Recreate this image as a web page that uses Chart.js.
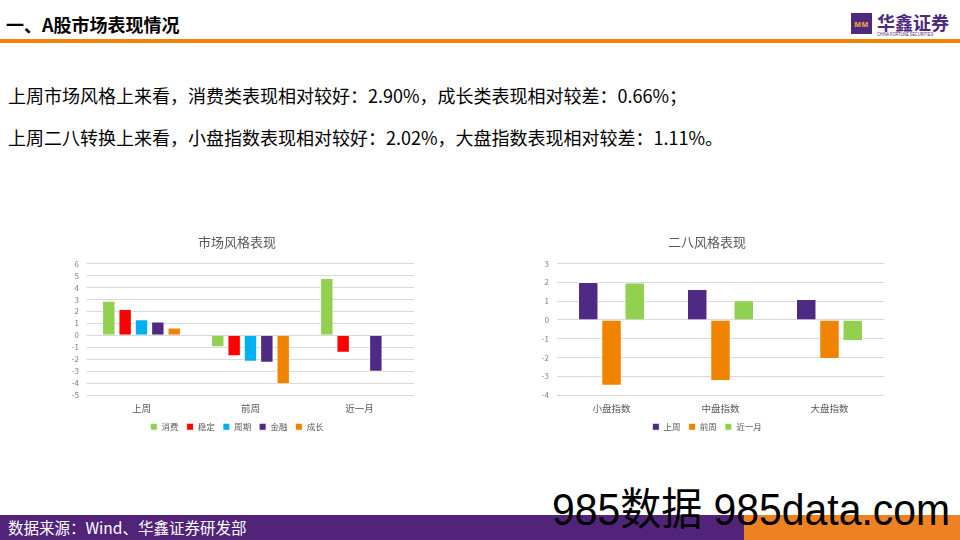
<!DOCTYPE html>
<html>
<head>
<meta charset="utf-8">
<script src="https://cdn.jsdelivr.net/npm/chart.js@4.4.1/dist/chart.umd.min.js"></script>
<style>
  body { margin: 0; width: 960px; height: 540px; position: relative; overflow: hidden; background: #fff;
         font-family: "Noto Sans CJK SC", "Noto Sans", sans-serif; }
  .head { position: absolute; left: 6px; top: 11px; font-size: 18px; font-weight: bold; color: #000; }
  .topline { position: absolute; left: 0; top: 39px; width: 960px; height: 4px; background: #F08300; }
  .logo-box { position: absolute; left: 851px; top: 13px; width: 21px; height: 21px; background: #4E2A7E; }
  .logo-box span { position: absolute; left: 3px; top: 4px; font-size: 9px; color: #F2A33A; font-weight: bold; }
  .logo-cn { position: absolute; left: 877px; top: 9px; font-size: 18px; font-weight: bold; color: #4E2A7E; }
  .logo-en { position: absolute; left: 877px; top: 31px; font-size: 5px; color: #4E2A7E; white-space: nowrap;
             font-family: "Liberation Sans", sans-serif; transform: scaleX(0.78); transform-origin: left top; }
  .txt { position: absolute; left: 8px; font-size: 18px; color: #000; }
  .box { position: absolute; }
  .foot { position: absolute; left: 0; top: 515px; width: 960px; height: 25px; background: #522479; }
  .foot-or { position: absolute; left: 744px; top: 515px; width: 216px; height: 25px; background: #EE8122; }
  .foot-txt { position: absolute; left: 8px; top: 516px; font-size: 15.5px; color: #fff; }
  .mark { position: absolute; left: 552px; top: 488px; font-size: 44px; line-height: 44px; color: #000; white-space: nowrap;
          font-family: "Liberation Sans", "Noto Sans CJK SC", sans-serif; transform: scaleX(0.93); transform-origin: left top; }
</style>
</head>
<body>
<div class="head">一、A股市场表现情况</div>
<div class="topline"></div>
<div class="logo-box"><span>ᴍᴍ</span></div>
<div class="logo-cn">华鑫证券</div>
<div class="logo-en">CHINA FORTUNE SECURITIES</div>

<div class="txt" style="top:82px;">上周市场风格上来看，消费类表现相对较好：2.90%，成长类表现相对较差：0.66%；</div>
<div class="txt" style="top:124px;">上周二八转换上来看，小盘指数表现相对较好：2.02%，大盘指数表现相对较差：1.11%。</div>

<div class="box" style="left:60px; top:228px; width:360px; height:213px;"><canvas id="styleChart"></canvas></div>
<div class="box" style="left:530px; top:228px; width:360px; height:213px;"><canvas id="sizeChart"></canvas></div>

<div class="foot"></div>
<div class="foot-or"></div>
<div class="foot-txt">数据来源：Wind、华鑫证券研发部</div>
<div class="mark">985数据 985data.com</div>

<script>
// 市场风格表现
const styleCats = ["上周", "前周", "近一月"];
const consumo = [2.90, -1.00, 4.80];
const estable = [2.20, -1.75, -1.45];
const ciclo = [1.35, -2.20, -0.05];
const finanzas = [1.15, -2.30, -3.05];
const crecimiento = [0.66, -4.10, 0.00];
const styleTicks = [-5, 6];

// 二八风格表现
const sizeCats = ["小盘指数", "中盘指数", "大盘指数"];
const semanaPasada = [2.02, 1.65, 1.11];
const semanaPrevia = [-3.50, -3.25, -2.08];
const ultimoMes = [2.00, 1.05, -1.12];
const sizeTicks = [-4, 3];

const VERDE = "#92D050", ROJO = "#FF0000", CIAN = "#00B0F0", MORADO = "#4E2A84", NARANJA = "#F08300";
const fuente = "'Noto Sans CJK SC', sans-serif";

function serie(label, data, color) {
    return { label: label, data: data, backgroundColor: color, borderColor: "rgba(255,255,255,0.9)", borderWidth: 1 };
}

function crearGrafico(id, titulo, labels, datasets, rango, catPct, barPct) {
    return new Chart(document.getElementById(id), {
        type: "bar",
        data: { labels: labels, datasets: datasets },
        options: {
            responsive: true,
            maintainAspectRatio: false,
            animation: false,
            layout: { padding: { right: 6, left: 0, bottom: 0 } },
            plugins: {
                title: {
                    display: true, text: titulo, color: "#595959",
                    font: { family: fuente, size: 13, weight: "normal" },
                    padding: { top: 6, bottom: 14 }
                },
                legend: {
                    position: "bottom",
                    labels: {
                        color: "#595959", boxWidth: 7, boxHeight: 7, padding: 8,
                        font: { family: fuente, size: 8.5 }
                    }
                },
                tooltip: { enabled: false }
            },
            datasets: { bar: { categoryPercentage: catPct, barPercentage: barPct } },
            scales: {
                x: {
                    grid: { display: false },
                    border: { display: false },
                    ticks: { color: "#595959", font: { family: fuente, size: 9.5 }, padding: 0 }
                },
                y: {
                    min: rango[0], max: rango[1],
                    afterFit: function (scale) { scale.width = 27; },
                    grid: { color: "#D9D9D9", drawTicks: false },
                    border: { display: false },
                    ticks: { stepSize: 1, autoSkip: false, color: "#7F7F7F", font: { family: fuente, size: 8 }, padding: 8 }
                }
            }
        }
    });
}

document.addEventListener("DOMContentLoaded", function () {
    crearGrafico("styleChart", "市场风格表现", styleCats, [
        serie("消费", consumo, VERDE),
        serie("稳定", estable, ROJO),
        serie("周期", ciclo, CIAN),
        serie("金融", finanzas, MORADO),
        serie("成长", crecimiento, NARANJA)
    ], styleTicks, 0.75, 0.82);

    crearGrafico("sizeChart", "二八风格表现", sizeCats, [
        serie("上周", semanaPasada, MORADO),
        serie("前周", semanaPrevia, NARANJA),
        serie("近一月", ultimoMes, VERDE)
    ], sizeTicks, 0.64, 0.88);
});
</script>
</body>
</html>
